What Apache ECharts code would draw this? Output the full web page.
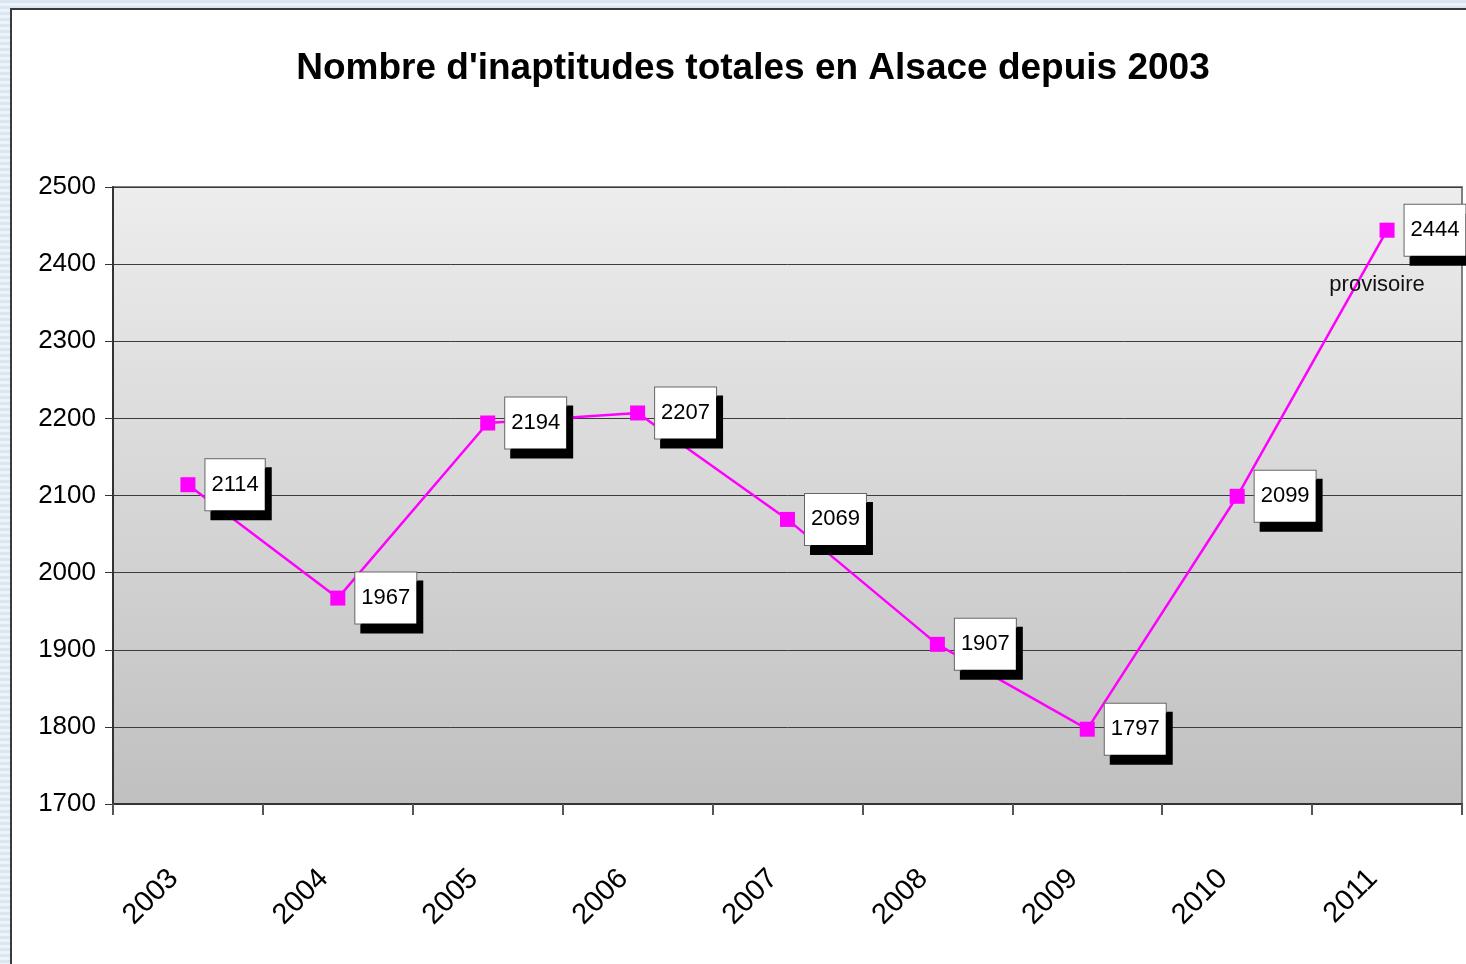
<!DOCTYPE html>
<html lang="fr">
<head>
    <meta charset="UTF-8">
    <title>Inaptitudes totales en Alsace</title>
    <style>
        html, body { margin: 0; padding: 0; }
        body {
            width: 1466px; height: 964px; overflow: hidden;
            background: repeating-linear-gradient(180deg, #dbe6f3 0px, #dbe6f3 3px, #eef3fa 3px, #eef3fa 6px);
        }
        #main {
            position: absolute; left: 10px; top: 8px;
            width: 1456px; height: 956px;
            border-left: 2px solid #3a3a3a; border-top: 2px solid #3a3a3a;
            background: #fff;
        }
    </style>
</head>
<body>
<div id="main"></div>
<script src="https://cdn.jsdelivr.net/npm/echarts@6/dist/echarts.min.js"></script>
<script>
    var years = ['2003', '2004', '2005', '2006', '2007', '2008', '2009', '2010', '2011'];
    var totals = [2114, 1967, 2194, 2207, 2069, 1907, 1797, 2099, 2444];
    var yTicks = [1700, 1800, 1900, 2000, 2100, 2200, 2300, 2400, 2500];
    var noteYear = '2011';
    var noteText = 'provisoire';

    var font = '"Liberation Sans", Arial, sans-serif';

    var myChart = echarts.init(document.getElementById('main'));
    var option = {
        animation: false,
        backgroundColor: '#ffffff',
        title: {
            text: "Nombre d'inaptitudes totales en Alsace depuis 2003",
            left: 736,
            textAlign: 'center',
            top: 35,
            textStyle: {
                fontFamily: font,
                fontWeight: 'bold',
                fontSize: 37,
                color: '#000'
            }
        },
        grid: {
            left: 101,
            top: 177,
            width: 1349,
            height: 617,
            show: true,
            borderColor: '#808080',
            borderWidth: 2,
            backgroundColor: {
                type: 'linear', x: 0, y: 0, x2: 0, y2: 1,
                colorStops: [
                    {offset: 0, color: '#ededed'},
                    {offset: 1, color: '#c0c0c0'}
                ]
            }
        },
        xAxis: {
            type: 'category',
            data: years,
            boundaryGap: true,
            axisLine: {lineStyle: {color: '#333', width: 2}},
            axisTick: {show: true, length: 11, lineStyle: {color: '#555', width: 2}},
            axisLabel: {
                rotate: 45,
                margin: 56,
                padding: [0, 20, 0, 0],
                fontFamily: font,
                fontSize: 29,
                color: '#000'
            },
            splitLine: {show: false}
        },
        yAxis: {
            type: 'value',
            min: yTicks[0],
            max: yTicks[yTicks.length - 1],
            interval: 100,
            axisLine: {show: true, lineStyle: {color: '#333', width: 2}},
            axisTick: {show: true, length: 8, lineStyle: {color: '#333'}},
            axisLabel: {
                margin: 17,
                fontFamily: font,
                fontSize: 26,
                color: '#000',
                formatter: function (v) { return String(v); }
            },
            splitLine: {show: true, lineStyle: {color: '#3c3c3c', width: 1}}
        },
        series: [
            {
                name: 'Inaptitudes',
                type: 'line',
                data: totals,
                symbol: 'rect',
                symbolSize: 15,
                z: 3,
                lineStyle: {color: '#ff00ff', width: 2.5},
                itemStyle: {color: '#ff00ff'},
                label: {
                    show: true,
                    position: 'right',
                    distance: 10,
                    fontFamily: font,
                    fontSize: 22,
                    color: '#000',
                    backgroundColor: '#fff',
                    borderColor: '#666',
                    borderWidth: 1,
                    padding: [15, 6, 14, 6],
                    shadowColor: '#000',
                    shadowBlur: 0,
                    shadowOffsetX: 6,
                    shadowOffsetY: 9
                },
                markPoint: {
                    symbol: 'circle',
                    symbolSize: 0,
                    label: {
                        show: true,
                        position: 'inside',
                        offset: [-10, 55],
                        formatter: noteText,
                        fontFamily: font,
                        fontSize: 22,
                        color: '#111'
                    },
                    data: [{coord: [noteYear, totals[years.indexOf(noteYear)]]}]
                }
            }
        ]
    };
    myChart.setOption(option);
</script>
</body>
</html>
